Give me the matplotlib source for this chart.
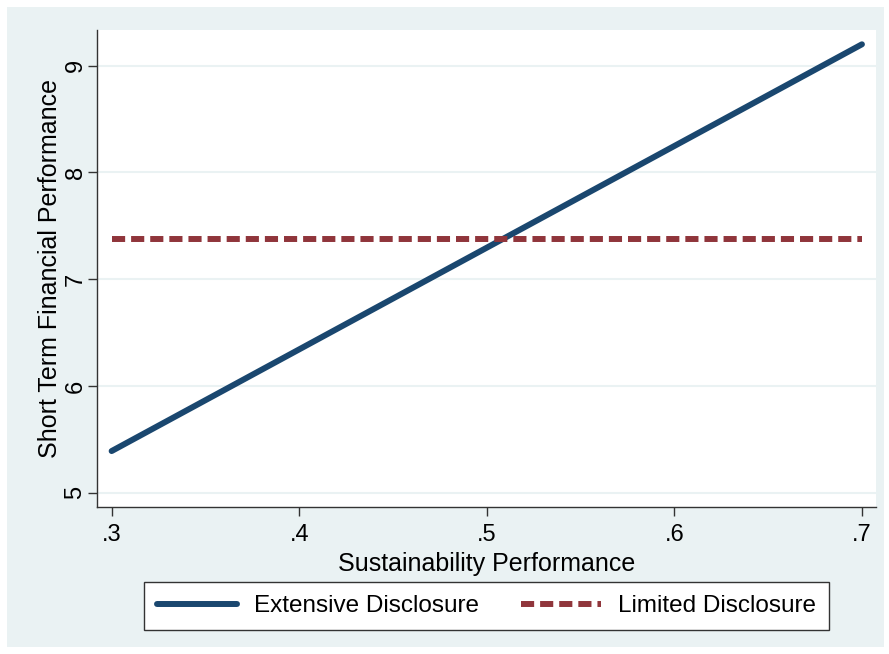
import matplotlib
matplotlib.use("Agg")
import matplotlib.pyplot as plt
from matplotlib.patches import Rectangle

# Data
sustainability = [0.3, 0.7]
extensive = [5.39, 9.20]
limited = [7.38, 7.38]
x_ticks = [0.3, 0.4, 0.5, 0.6, 0.7]
x_labels = [".3", ".4", ".5", ".6", ".7"]
y_ticks = [5, 6, 7, 8, 9]

plt.rcParams['font.family'] = ['Liberation Sans', 'DejaVu Sans']

W, H = 889, 654
fig = plt.figure(figsize=(W / 100, H / 100), dpi=100)
fig.patch.set_facecolor("white")

# Stata-like outer background
fig.add_artist(Rectangle((7 / W, 1 - 647 / H), (884 - 7) / W, (647 - 7) / H,
                         transform=fig.transFigure, facecolor="#eaf2f3",
                         edgecolor="none", zorder=-5))

ax = fig.add_axes([97 / W, 1 - 507 / H, (876 - 97) / W, (507 - 30) / H])
ax.set_facecolor("white")

ax.plot(sustainability, extensive, color="#1a476f", lw=4.3,
        solid_capstyle="round", label="Extensive Disclosure")
ax.plot(sustainability, limited, color="#90353b", lw=4.3,
        linestyle=(0, (2.2, 1.0)), label="Limited Disclosure")

ax.set_xlim(0.2922, 0.7075)
ax.set_ylim(4.866, 9.334)
ax.set_xticks(x_ticks)
ax.set_xticklabels(x_labels)
ax.set_yticks(y_ticks)
ax.set_yticklabels([str(v) for v in y_ticks], rotation=90, va="center")

ax.grid(axis="y", color="#eaf2f3", lw=1.5)
ax.set_axisbelow(True)

for side in ["top", "right"]:
    ax.spines[side].set_visible(False)
for side in ["left", "bottom"]:
    ax.spines[side].set_color("#333333")
    ax.spines[side].set_linewidth(1.0)

ax.tick_params(axis="both", length=6.5, width=1, color="#333333", labelsize=17)
ax.tick_params(axis="x", pad=6)
ax.tick_params(axis="y", pad=1)

ax.set_xlabel("Sustainability Performance", fontsize=18, labelpad=4)
ax.set_ylabel("Short Term Financial Performance", fontsize=18, labelpad=2)

leg = fig.legend(loc="center", bbox_to_anchor=((141 + 832) / 2 / W, 1 - 606 / H),
                 ncol=2, fontsize=17.5, frameon=True, fancybox=False,
                 handlelength=3.3, columnspacing=1.7, handletextpad=0.7,
                 borderpad=0.55, framealpha=1, facecolor="white")
leg.get_frame().set_edgecolor("#333333")
leg.get_frame().set_linewidth(1.0)

fig.savefig("out.png", dpi=100)
